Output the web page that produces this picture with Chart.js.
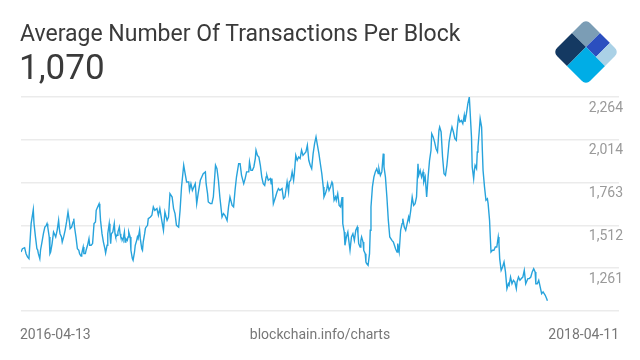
<!DOCTYPE html>
<html>
<head>
<meta charset="utf-8">
<script src="https://cdn.jsdelivr.net/npm/chart.js@4/dist/chart.umd.min.js"></script>
<style>
    html, body { margin: 0; padding: 0; background: #fff; }
    #wrap { position: relative; width: 640px; height: 360px; overflow: hidden; font-family: Roboto, sans-serif; }
    #chart { position: absolute; left: 0; top: 0; }
    .title { position: absolute; left: 20px; top: 20px; font-size: 23px; color: #3a3a3a; white-space: nowrap; }
    .value { position: absolute; left: 19px; top: 47px; font-size: 35px; color: #3a3a3a; }
    .foot { position: absolute; top: 326px; font-size: 14px; color: #777; white-space: nowrap; }
    #logo { position: absolute; left: 551px; top: 17px; }
</style>
</head>
<body>
<div id="wrap">
    <canvas id="chart" width="640" height="360"></canvas>
    <div class="title">Average Number Of Transactions Per Block</div>
    <div class="value">1,070</div>
    <div class="foot" style="left:20px">2016-04-13</div>
    <div class="foot" style="left:0;width:640px;text-align:center">blockchain.info/charts</div>
    <div class="foot" style="right:21px">2018-04-11</div>
    <svg id="logo" width="70" height="70">
        <defs>
            <clipPath id="clip"><rect x="0" y="0" width="47" height="47" rx="6" ry="6"/></clipPath>
        </defs>
        <g transform="translate(35,35) rotate(45) translate(-23.5,-23.5)" clip-path="url(#clip)">
            <rect x="0" y="0" width="20" height="20" fill="#7b9db5"/>
            <rect x="0" y="20" width="20" height="27" fill="#143962"/>
            <rect x="20" y="0" width="14" height="20" fill="#2b4fbf"/>
            <rect x="34" y="0" width="13" height="20" fill="#aad1e6"/>
            <rect x="20" y="20" width="27" height="27" fill="#00ade6"/>
        </g>
    </svg>
</div>

<script>
// ============================================
// Data (day offset from 2016-04-13, avg tx per block)
// ============================================
const days = [
    0, 2, 5, 7, 9, 11, 12, 14, 17, 18, 20, 22, 23, 24, 26, 27, 29, 31, 33, 35,
    36, 37, 39, 40, 41, 43, 45, 47, 48, 50, 52, 53, 54, 56, 57, 59, 60, 61, 63, 65,
    67, 68, 70, 72, 73, 74, 76, 78, 80, 81, 83, 84, 86, 87, 89, 90, 92, 94, 95, 97,
    99, 100, 101, 103, 104, 106, 108, 109, 110, 112, 114, 116, 117, 119, 120, 122, 123, 124, 125, 127,
    129, 130, 131, 133, 134, 136, 137, 138, 140, 141, 143, 144, 145, 147, 148, 149, 151, 152, 154, 155,
    157, 158, 160, 161, 162, 164, 165, 167, 168, 169, 171, 172, 173, 175, 176, 179, 181, 183, 185, 188,
    190, 192, 195, 197, 199, 202, 204, 206, 209, 211, 213, 215, 218, 220, 222, 225, 227, 229, 232, 233,
    235, 237, 239, 241, 243, 245, 248, 250, 252, 255, 256, 258, 259, 262, 264, 266, 269, 271, 273, 275,
    278, 280, 282, 285, 287, 289, 292, 294, 296, 298, 301, 303, 305, 308, 310, 312, 315, 316, 318, 320,
    322, 324, 325, 327, 329, 331, 333, 335, 337, 339, 340, 342, 345, 346, 347, 349, 352, 354, 356, 358,
    361, 363, 365, 368, 370, 371, 373, 375, 377, 378, 380, 382, 384, 386, 388, 390, 392, 394, 396, 398,
    400, 402, 404, 406, 408, 410, 412, 414, 416, 418, 419, 421, 423, 424, 426, 428, 430, 431, 433, 435,
    436, 438, 440, 442, 444, 445, 447, 448, 450, 452, 453, 455, 457, 459, 461, 463, 465, 466, 467, 469,
    470, 471, 473, 474, 476, 477, 478, 480, 482, 483, 484, 486, 488, 490, 492, 494, 495, 497, 499, 501,
    502, 504, 506, 508, 510, 513, 515, 518, 520, 521, 523, 525, 527, 528, 530, 532, 534, 536, 537, 539,
    541, 543, 545, 547, 549, 550, 552, 554, 556, 557, 559, 561, 563, 565, 567, 568, 570, 572, 574, 576,
    578, 579, 581, 583, 585, 587, 589, 591, 592, 594, 596, 598, 600, 602, 603, 605, 607, 609, 611, 613,
    614, 616, 618, 620, 621, 623, 624, 626, 627, 628, 630, 631, 632, 634, 635, 637, 638, 639, 641, 643,
    645, 646, 648, 649, 650, 652, 654, 656, 658, 660, 661, 662, 664, 666, 668, 670, 672, 674, 675, 677,
    679, 681, 683, 685, 686, 688, 690, 692, 694, 696, 698, 699, 701, 703, 705, 707, 709, 711, 712, 714,
    716, 718, 720, 722, 723, 725, 727, 728
];

const txPerBlock = [
    1356, 1375, 1381, 1346, 1327, 1317, 1385, 1522, 1604, 1522, 1444, 1375, 1369, 1346, 1317, 1366, 1414, 1463, 1502, 1512,
    1522, 1502, 1444, 1346, 1356, 1405, 1473, 1454, 1444, 1483, 1541, 1493, 1463, 1444, 1414, 1444, 1463, 1483, 1532, 1590,
    1532, 1493, 1502, 1532, 1551, 1502, 1444, 1375, 1366, 1346, 1332, 1346, 1385, 1346, 1346, 1366, 1395, 1434, 1395, 1395,
    1405, 1463, 1522, 1532, 1600, 1620, 1639, 1610, 1541, 1463, 1414, 1375, 1350, 1395, 1463, 1522, 1463, 1405, 1463, 1473,
    1522, 1463, 1444, 1454, 1473, 1502, 1463, 1444, 1434, 1424, 1473, 1414, 1434, 1424, 1444, 1473, 1444, 1366, 1317, 1307,
    1356, 1395, 1424, 1444, 1434, 1483, 1434, 1375, 1366, 1414, 1463, 1493, 1502, 1512, 1551, 1561, 1571, 1620, 1600, 1610,
    1571, 1610, 1532, 1483, 1590, 1541, 1561, 1698, 1678, 1610, 1581, 1512, 1502, 1600, 1737, 1864, 1815, 1766, 1766, 1717,
    1756, 1717, 1737, 1756, 1639, 1698, 1776, 1795, 1815, 1825, 1756, 1698, 1649, 1639, 1639, 1678, 1864, 1844, 1776, 1678,
    1561, 1581, 1571, 1541, 1620, 1678, 1629, 1620, 1717, 1795, 1873, 1873, 1805, 1756, 1786, 1825, 1825, 1883, 1834, 1834,
    1854, 1903, 1952, 1922, 1912, 1864, 1795, 1756, 1746, 1795, 1805, 1776, 1786, 1756, 1786, 1639, 1678, 1707, 1727, 1717,
    1727, 1668, 1678, 1766, 1707, 1766, 1776, 1825, 1776, 1815, 1922, 1893, 1912, 1903, 1952, 1922, 1932, 1942, 1981, 1893,
    1864, 1844, 1932, 1991, 2030, 1981, 1932, 1873, 1815, 1737, 1678, 1698, 1727, 1756, 1717, 1737, 1766, 1756, 1659, 1678,
    1659, 1698, 1629, 1620, 1678, 1522, 1473, 1395, 1444, 1473, 1434, 1366, 1444, 1463, 1424, 1483, 1502, 1463, 1405, 1385,
    1424, 1444, 1414, 1366, 1346, 1297, 1288, 1278, 1346, 1483, 1620, 1737, 1795, 1825, 1844, 1815, 1844, 1805, 1825, 1932,
    1854, 1795, 1678, 1541, 1444, 1424, 1414, 1375, 1356, 1405, 1356, 1483, 1522, 1551, 1502, 1483, 1522, 1561, 1541, 1600,
    1678, 1629, 1639, 1678, 1873, 1805, 1834, 1795, 1825, 1766, 1795, 1678, 1795, 1893, 1952, 2049, 2030, 2000, 1961, 1942,
    2069, 2088, 2059, 1912, 1815, 1805, 1864, 1952, 2000, 2049, 2088, 2059, 2020, 2010, 2069, 2147, 2118, 2127, 2108, 2157,
    2118, 2166, 2225, 2264, 2186, 2030, 1854, 1786, 1834, 1864, 1844, 1942, 1971, 2079, 2137, 2088, 1952, 1834, 1737, 1659,
    1668, 1639, 1541, 1444, 1356, 1366, 1366, 1385, 1385, 1444, 1405, 1317, 1248, 1268, 1297, 1239, 1141, 1170, 1161, 1209,
    1170, 1190, 1180, 1141, 1180, 1209, 1190, 1200, 1209, 1248, 1170, 1180, 1200, 1200, 1209, 1239, 1258, 1239, 1170, 1170,
    1190, 1151, 1112, 1122, 1122, 1102, 1082, 1070
];

const tickValues = [1010, 1261, 1512, 1763, 2014, 2264];
const tickLabels = ['', '1,261', '1,512', '1,763', '2,014', '2,264'];

// ============================================
// Chart
// ============================================
const points = days.map((d, i) => ({ x: d, y: txPerBlock[i] }));

const ctx = document.getElementById('chart').getContext('2d');
new Chart(ctx, {
    type: 'line',
    data: {
        datasets: [{
            data: points,
            borderColor: '#27a3dc',
            borderWidth: 1.4,
            pointRadius: 0,
            tension: 0,
            fill: false
        }]
    },
    options: {
        responsive: false,
        animation: false,
        devicePixelRatio: 1,
        layout: {
            padding: { left: 21, right: 21, top: 97, bottom: 49 }
        },
        plugins: {
            legend: { display: false },
            tooltip: { enabled: false }
        },
        scales: {
            x: {
                type: 'linear',
                min: 0,
                max: 827,
                display: false
            },
            y: {
                position: 'right',
                min: 1010,
                max: 2264,
                afterBuildTicks: scale => {
                    scale.ticks = tickValues.map(v => ({ value: v }));
                },
                afterFit: scale => { scale.width = 0; },
                border: { display: false },
                grid: { color: '#ebebeb', lineWidth: 1.5, drawTicks: false },
                ticks: {
                    mirror: true,
                    padding: 4,
                    labelOffset: 11,
                    color: '#9a9a9a',
                    font: { family: 'Roboto', size: 14 },
                    callback: (v, i) => tickLabels[i]
                }
            }
        }
    }
});
</script>
</body>
</html>
